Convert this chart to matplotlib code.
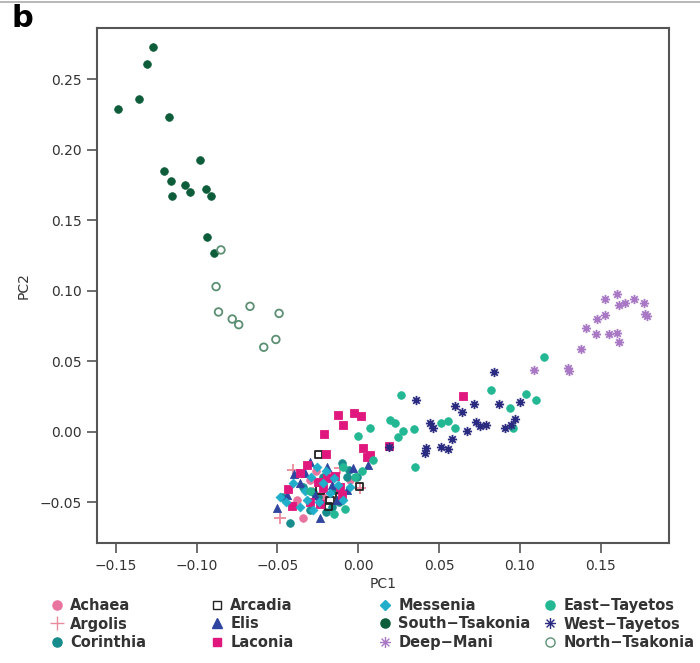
import matplotlib
matplotlib.use("Agg")
import matplotlib.pyplot as plt
from matplotlib.path import Path
from matplotlib.lines import Line2D

# PC scores, one pair of lists per region
south_tsakonia_x = [-0.149, -0.136, -0.131, -0.127, -0.117, -0.120, -0.116, -0.115, -0.107, -0.104,
                    -0.098, -0.0945, -0.091, -0.0935, -0.089]
south_tsakonia_y = [0.229, 0.236, 0.261, 0.273, 0.223, 0.185, 0.178, 0.167, 0.175, 0.170,
                    0.193, 0.172, 0.167, 0.138, 0.127]

north_tsakonia_x = [-0.085, -0.088, -0.0865, -0.078, -0.074, -0.067, -0.049, -0.051, -0.0585]
north_tsakonia_y = [0.129, 0.103, 0.085, 0.080, 0.076, 0.089, 0.084, 0.0655, 0.060]

deep_mani_x = [0.160, 0.153, 0.1615, 0.165, 0.1705, 0.177, 0.1775, 0.179, 0.153, 0.1475,
               0.141, 0.147, 0.155, 0.160, 0.1615, 0.138, 0.130, 0.1302, 0.109]
deep_mani_y = [0.0977, 0.094, 0.0897, 0.0911, 0.094, 0.0916, 0.0833, 0.082, 0.083, 0.0797,
               0.0735, 0.0697, 0.0695, 0.0702, 0.064, 0.0584, 0.0453, 0.0429, 0.0441]

east_tayetos_x = [0.0267, 0.0195, 0.0226, 0.0277, 0.0246, 0.0347, 0.0349, 0.0514, 0.0555, 0.0596,
                  0.0823, 0.0936, 0.1035, 0.110, 0.0956, 0.1148, 0.0072, 0.0, 0.0092, -0.0093,
                  -0.0021, -0.0150, -0.0300, -0.0080, 0.0020]
east_tayetos_y = [0.0263, 0.0085, 0.0062, 0.0009, -0.0038, 0.0019, -0.0247, 0.0066, 0.008, 0.0026,
                  0.0299, 0.0169, 0.0266, 0.0223, 0.0026, 0.0529, 0.003, -0.0033, -0.020, -0.0247,
                  -0.0318, -0.0580, -0.0420, -0.0550, -0.0280]

west_tayetos_x = [0.0356, 0.0843, 0.0596, 0.0644, 0.0718, 0.087, 0.0998, 0.0442, 0.0462, 0.0582,
                  0.0514, 0.0555, 0.0417, 0.0411, 0.0672, 0.0726, 0.0751, 0.0792, 0.0911, 0.0946,
                  0.0967, 0.019]
west_tayetos_y = [0.0223, 0.0425, 0.018, 0.0137, 0.0197, 0.0199, 0.0214, 0.0062, 0.0026, -0.0052,
                  -0.0109, -0.0123, -0.0116, -0.0147, 0.0009, 0.0073, 0.0038, 0.005, 0.0026, 0.005,
                  0.009, -0.0105]

laconia_x = [0.0648, -0.0124, -0.0027, 0.0016, -0.0097, -0.0212, 0.003, 0.0072, 0.0057, -0.020,
             -0.036, -0.0433, -0.0408, -0.0237, -0.0248, -0.0144, -0.0114, -0.0319, -0.0196, 0.019,
             -0.0300, -0.0220, -0.0100]
laconia_y = [0.0251, 0.0121, 0.0133, 0.0109, 0.0045, -0.0016, -0.0114, -0.0164, -0.018, -0.0157,
             -0.0294, -0.0408, -0.0527, -0.0512, -0.0354, -0.0313, -0.0389, -0.0235, -0.033, -0.010,
             -0.0500, -0.0400, -0.0450]

achaea_x = [-0.034, -0.038, -0.0134, -0.0217, -0.0299, -0.0052, -0.0260, -0.0180, -0.0400]
achaea_y = [-0.0614, -0.0484, -0.0413, -0.046, -0.0342, -0.0342, -0.0280, -0.0300, -0.0520]

argolis_x = [-0.0484, -0.0402, -0.0114, 0.001, -0.0278]
argolis_y = [-0.0614, -0.027, -0.0258, -0.040, -0.0436]

elis_x = [-0.0504, -0.0237, -0.0035, -0.0299, -0.0443, -0.0072, -0.0196, 0.0061, -0.0134, -0.036,
          -0.0330, -0.0270, -0.0160, -0.0400]
elis_y = [-0.0543, -0.0614, -0.0258, -0.0211, -0.0448, -0.0413, -0.0247, -0.0235, -0.0484, -0.0365,
          -0.0290, -0.0450, -0.0380, -0.0300]

corinthia_x = [-0.0422, -0.0299, -0.0473, -0.0165, -0.0072, -0.0103, -0.0217, -0.034, -0.001, -0.0247,
               -0.0150, -0.0280, -0.0120, -0.0200, -0.0060]
corinthia_y = [-0.065, -0.0555, -0.046, -0.0531, -0.0318, -0.0223, -0.0318, -0.0389, -0.0318, -0.046,
               -0.0410, -0.0430, -0.0500, -0.0570, -0.0270]

messenia_x = [-0.0484, -0.0402, -0.0319, -0.0257, -0.0175, -0.0093, -0.036, -0.0217, -0.0124, -0.0278,
              -0.0052, -0.0290, -0.0200, -0.0330, -0.0150, -0.0240, -0.0450]
messenia_y = [-0.046, -0.0365, -0.0484, -0.0247, -0.0436, -0.0484, -0.0531, -0.0365, -0.0377, -0.0555,
              -0.0389, -0.0320, -0.0280, -0.0420, -0.0330, -0.0500, -0.0500]

arcadia_x = [-0.0247, -0.0175, -0.0237, 0.001, -0.0186, -0.0114]
arcadia_y = [-0.0164, -0.0484, -0.0413, -0.0385, -0.0531, -0.046]

# R style pch=8 asterisk
asterisk = Path([(-1, 0), (1, 0), (0, -1), (0, 1), (-0.71, -0.71), (0.71, 0.71), (-0.71, 0.71), (0.71, -0.71)],
                [Path.MOVETO, Path.LINETO] * 4)

# name, x, y, marker, color, style ('fill', 'open', 'line'), size
groups = [
    ("Achaea", achaea_x, achaea_y, "o", "#e8739f", "fill", 30),
    ("Argolis", argolis_x, argolis_y, "+", "#e98a9e", "line", 64),
    ("Corinthia", corinthia_x, corinthia_y, "o", "#168c8c", "fill", 30),
    ("Arcadia", arcadia_x, arcadia_y, "s", "#222222", "open", 26),
    ("Elis", elis_x, elis_y, "^", "#2f45a0", "fill", 34),
    ("Laconia", laconia_x, laconia_y, "s", "#e0187e", "fill", 28),
    ("Messenia", messenia_x, messenia_y, "D", "#20aecb", "fill", 20),
    ("South\u2212Tsakonia", south_tsakonia_x, south_tsakonia_y, "o", "#0d5c3a", "fill", 30),
    ("Deep\u2212Mani", deep_mani_x, deep_mani_y, asterisk, "#a878c4", "line", 44),
    ("East\u2212Tayetos", east_tayetos_x, east_tayetos_y, "o", "#24b794", "fill", 30),
    ("West\u2212Tayetos", west_tayetos_x, west_tayetos_y, asterisk, "#2a2a80", "line", 44),
    ("North\u2212Tsakonia", north_tsakonia_x, north_tsakonia_y, "o", "#5c8f73", "open", 30),
]

plt.rcParams['font.family'] = ['DejaVu Sans']

fig = plt.figure(figsize=(7, 6.63), dpi=100)
ax = fig.add_axes([0.1381, 0.1805, 0.8176, 0.7768])

handles = []
for name, xs, ys, mk, col, style, s in groups:
    ms = (s ** 0.5) * 1.2
    if style == "fill":
        ax.scatter(xs, ys, marker=mk, s=s, c=col, edgecolors=col, linewidths=0.6, zorder=3)
        h = Line2D([], [], ls="none", marker=mk, ms=ms, mfc=col, mec=col)
    elif style == "open":
        ax.scatter(xs, ys, marker=mk, s=s, facecolors="none", edgecolors=col, linewidths=1.3, zorder=3)
        h = Line2D([], [], ls="none", marker=mk, ms=ms, mfc="none", mec=col, mew=1.0)
    else:
        ax.scatter(xs, ys, marker=mk, s=s, c=col, linewidths=1.3, zorder=3)
        h = Line2D([], [], ls="none", marker=mk, ms=ms, mec=col, mew=1.0)
    handles.append((h, name))

ax.set_xlim(-0.1619, 0.1923)
ax.set_ylim(-0.0791, 0.2862)
ax.set_xticks([-0.15, -0.10, -0.05, 0.00, 0.05, 0.10, 0.15])
ax.set_yticks([-0.05, 0.00, 0.05, 0.10, 0.15, 0.20, 0.25])
ax.set_xticklabels(["\u22120.15", "\u22120.10", "\u22120.05", "0.00", "0.05", "0.10", "0.15"])
ax.set_yticklabels(["\u22120.05", "0.00", "0.05", "0.10", "0.15", "0.20", "0.25"])
ax.tick_params(direction="out", length=7.5, width=1.2, colors="#555555", labelcolor="#333333",
               labelsize=10, pad=3.5)
for sp in ax.spines.values():
    sp.set_color("#555555")
    sp.set_linewidth(1.5)
ax.set_xlabel("PC1", fontsize=10, color="#333333", labelpad=3)
ax.set_ylabel("PC2", fontsize=10, color="#333333", labelpad=6)

# legend in four columns of three, evenly spaced like R's legend
col_x = [50, 210, 378, 543]
for i in range(4):
    hs = [handles[3 * i + j][0] for j in range(3)]
    ls = [handles[3 * i + j][1] for j in range(3)]
    leg = fig.legend(hs, ls, loc="center left", bbox_to_anchor=(col_x[i] / 700, 1 - 624 / 663),
                     frameon=False, borderpad=0, borderaxespad=0, handlelength=1.0,
                     handletextpad=0.4, labelspacing=0.25,
                     prop={"size": 10.5, "weight": "bold"})
    for t in leg.get_texts():
        t.set_color("#333333")

fig.text(12 / 700, 1 - 27 / 663, "b", fontsize=22, fontweight="bold", va="baseline", ha="left")
fig.add_artist(Line2D([0, 1], [1 - 2 / 663, 1 - 2 / 663], color="#aaaaaa", lw=1.2))

fig.savefig("out.png", dpi=100)
